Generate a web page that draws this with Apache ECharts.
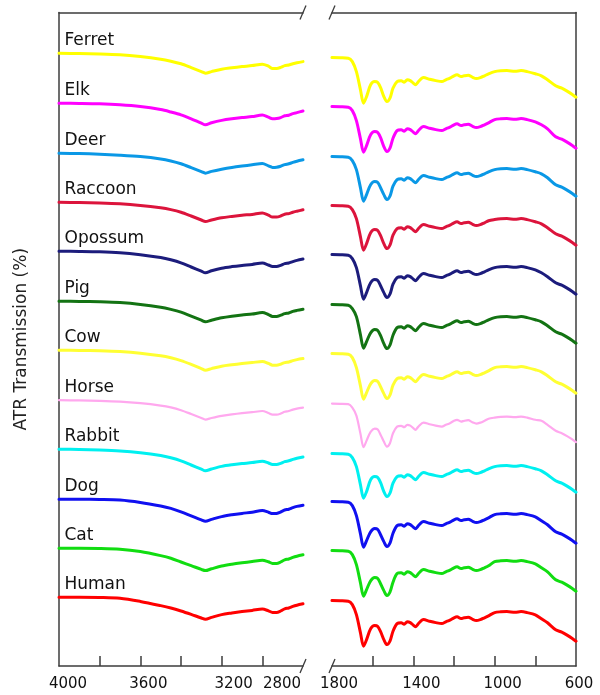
<!DOCTYPE html>
<html><head><meta charset="utf-8">
<script src="https://cdn.jsdelivr.net/npm/echarts@6/dist/echarts.min.js"></script>
<style>html,body{margin:0;padding:0;background:#fff}#c{width:600px;height:695px}</style>
</head><body><div id="c"></div>
<script>
// ---------------- DATA ----------------
const species = ['Ferret','Elk','Deer','Raccoon','Opossum','Pig','Cow','Horse','Rabbit','Dog','Cat','Human'];
// vertical stacking offset of each spectrum (transmission units)
const offsets = [272, 247, 222, 197.5, 173, 148, 123.5, 98.5, 74, 49, 24.5, 0];

// wavenumbers (cm-1)
const wnHigh = [4000,3900,3800,3700,3600,3500,3450,3400,3350,3300,3280,3250,3200,3150,3100,3050,3000,2970,2950,2930,2910,2890,2870,2850,2830,2800];
const wnLow = [1800,1760,1720,1700,1680,1660,1645,1630,1610,1590,1575,1560,1545,1530,1515,1500,1480,1460,1445,1430,1415,1400,1390,1375,1350,1320,1290,1260,1240,1220,1200,1185,1165,1150,1130,1110,1090,1070,1050,1030,1000,970,940,900,870,840,800,770,740,700,670,640,620,600];

// tick labels
const ticksHigh = [3800,3600,3400,3200,3000];
const labelsHigh = [4000,3600,3200,2800];
const ticksLow = [1600,1400,1200,1000,800];
const labelsLow = [1800,1400,1000,600];

// transmission, 4000-2800 cm-1
const ferretHigh  = [100,99.8,99.6,99.2,98.3,97.0,96.0,94.7,92.8,90.8,90.0,90.8,92.0,92.7,93.3,93.8,94.5,93.5,92.4,92.4,92.9,93.8,94.1,94.7,95.2,95.8];
const elkHigh     = [100,99.9,99.7,99.2,98.3,96.8,95.6,94.2,92.2,90.0,89.2,90.2,91.4,92.2,92.8,93.3,94.1,93.0,92.2,92.3,92.8,93.7,94.0,94.8,95.3,96.1];
const deerHigh    = [100,99.8,99.5,99.0,98.3,97.1,96.1,94.7,92.8,90.8,90.0,90.9,92.0,92.9,93.6,94.2,94.8,93.7,92.9,93.0,93.5,94.3,94.7,95.4,96.0,96.7];
const raccoonHigh = [100,99.8,99.6,99.2,98.4,97.2,96.3,95.0,93.1,91.1,90.3,91.1,92.2,92.9,93.5,93.9,94.6,93.5,92.6,92.6,93.1,94.0,94.3,95.0,95.5,96.2];
const opossumHigh = [100,99.9,99.7,99.2,98.2,96.8,95.7,94.2,92.1,90.0,89.2,90.2,91.5,92.3,92.9,93.4,94.1,93.1,92.3,92.3,92.9,93.8,94.1,94.8,95.4,96.1];
const pigHigh     = [100,99.9,99.7,99.3,98.4,97.0,95.9,94.5,92.5,90.5,89.7,90.5,91.7,92.5,93.1,93.6,94.3,93.3,92.4,92.4,93.0,93.8,94.1,94.9,95.4,96.0];
const cowHigh     = [100,99.9,99.7,99.3,98.5,97.2,96.2,94.8,92.9,90.8,90.0,90.8,92.0,92.7,93.3,93.8,94.4,93.4,92.5,92.5,93.0,93.8,94.1,94.8,95.3,95.8];
const horseHigh   = [100,99.9,99.7,99.3,98.5,97.3,96.4,95.0,93.1,91.1,90.3,91.1,92.2,92.9,93.5,94.0,94.6,93.6,92.8,92.8,93.3,94.2,94.6,95.3,95.8,96.3];
const rabbitHigh  = [100,99.9,99.6,99.1,98.2,96.8,95.7,94.2,92.1,90.0,89.2,90.1,91.4,92.2,92.8,93.3,94.0,93.1,92.3,92.3,92.9,93.8,94.2,94.9,95.5,96.1];
const dogHigh     = [100,100,99.9,99.6,98.4,96.6,95.4,93.7,91.7,89.7,89.0,89.9,91.3,92.2,92.9,93.5,94.3,93.5,92.8,92.9,93.6,94.6,95.0,95.8,96.4,97.0];
const catHigh     = [100,100,99.9,99.5,98.3,96.3,95.0,93.1,91.3,89.4,88.8,89.7,91.1,92.0,92.7,93.3,94.0,93.2,92.4,92.4,93.1,94.2,94.6,95.4,96.0,96.7];
const humanHigh   = [100,100,99.9,99.5,97.9,95.8,94.6,93.1,91.4,89.6,89.0,89.9,91.3,92.1,92.8,93.4,94.1,93.2,92.4,92.4,93.1,94.2,94.6,95.4,96.0,96.7];

// transmission, 1800-600 cm-1
const ferretLow  = [97.8,97.7,97.5,95.8,90.8,81.7,75.0,78.3,84.2,85.8,85.3,82.5,78.3,75.8,77.5,82.5,85.8,86.2,85.5,86.7,86.3,85.0,84.2,85.8,87.8,87.0,86.3,85.8,86.7,87.5,88.7,89.2,88.3,88.7,89.0,88.0,87.3,87.8,88.7,89.7,90.8,91.2,91.3,91.0,91.3,90.8,89.7,88.7,86.7,83.7,82.5,80.8,79.5,78.0];
const elkLow     = [98.3,98.2,98.0,96.3,91.3,82.2,75.5,78.8,84.2,85.8,85.3,82.5,78.3,75.8,77.5,82.5,86.3,86.7,86.0,87.2,86.8,85.5,84.7,86.3,88.3,87.5,86.8,86.3,87.2,88.0,89.2,89.7,88.8,89.2,89.5,88.5,87.8,88.3,89.2,90.2,91.8,92.2,92.3,92.0,92.3,91.8,90.7,89.2,87.2,83.2,82.0,80.3,79.0,77.5];
const deerLow    = [98.3,98.2,98.0,96.3,91.8,82.7,76.0,79.3,84.2,85.8,85.3,82.5,79.3,76.8,78.5,83.5,86.8,87.2,86.5,87.7,87.3,86.0,85.2,86.8,88.8,88.0,87.3,86.8,87.7,88.5,89.7,90.2,89.3,89.7,90.0,89.0,88.3,88.8,89.7,90.7,91.8,92.2,92.3,92.0,92.3,91.8,90.7,89.7,87.7,84.2,83.0,81.3,80.0,78.5];
const raccoonLow = [98.3,98.2,98.0,96.3,91.8,82.7,76.0,79.3,84.7,86.3,85.8,83.0,79.3,76.8,78.5,83.5,86.8,87.2,86.5,87.7,87.3,86.0,85.2,86.8,88.8,88.0,87.3,86.8,87.7,88.5,89.7,90.2,89.3,89.7,90.0,89.0,88.3,88.8,89.7,90.7,91.3,91.7,91.8,91.5,91.8,91.3,90.2,89.2,87.2,84.2,83.0,81.3,80.0,78.5];
const opossumLow = [98.3,98.2,98.0,96.3,91.8,82.7,76.0,79.3,84.2,85.8,85.3,82.5,79.3,76.8,78.5,83.5,86.8,87.2,86.5,87.7,87.3,86.0,85.2,86.8,88.8,88.0,87.3,86.8,87.7,88.5,89.7,90.2,89.3,89.7,90.0,89.0,88.3,88.8,89.7,90.7,91.8,92.2,92.3,92.0,92.3,91.8,90.7,89.2,87.2,84.2,83.0,81.3,80.0,78.5];
const pigLow     = [98.3,98.2,98.0,96.3,92.3,83.2,76.5,79.8,84.2,85.8,85.3,82.5,78.8,76.3,78.0,83.0,86.8,87.2,86.5,87.7,87.3,86.0,85.2,86.8,88.8,88.0,87.3,86.8,87.7,88.5,89.7,90.2,89.3,89.7,90.0,89.0,88.3,88.8,89.7,90.7,91.8,92.2,92.3,92.0,92.3,91.8,90.7,89.7,87.7,84.7,83.5,81.8,80.5,79.0];
const cowLow     = [98.3,98.2,98.0,96.3,91.3,82.2,75.5,78.8,83.2,84.8,84.3,81.5,78.3,75.8,77.5,82.5,85.8,86.2,85.5,86.7,86.3,85.0,84.2,85.8,87.8,87.0,86.3,85.8,86.7,87.5,88.7,89.2,88.3,88.7,89.0,88.0,87.3,87.8,88.7,89.7,91.3,91.7,91.8,91.5,91.8,91.3,90.2,89.2,87.2,84.2,83.0,81.3,80.0,78.5];
const horseLow   = [98.3,98.2,98.0,96.3,92.3,83.2,76.5,79.8,84.2,85.8,85.3,82.5,79.3,76.8,78.5,83.5,86.8,87.2,86.5,87.7,87.3,86.0,85.2,86.8,88.8,88.0,87.3,86.8,87.7,88.5,89.7,90.2,89.3,89.7,90.0,89.0,88.3,88.8,89.7,90.7,91.3,91.7,91.8,91.5,91.8,91.3,90.2,89.7,87.7,84.7,83.5,81.8,80.5,79.0];
const rabbitLow  = [97.8,97.7,97.5,95.8,91.3,82.2,75.5,78.8,84.7,86.3,85.8,83.0,78.8,76.3,78.0,83.0,86.3,86.7,86.0,87.2,86.8,85.5,84.7,86.3,88.3,87.5,86.8,86.3,87.2,88.0,89.2,89.7,88.8,89.2,89.5,88.5,87.8,88.3,89.2,90.2,91.3,91.7,91.8,91.5,91.8,91.3,90.2,89.2,87.2,84.2,83.0,81.3,80.0,78.5];
const dogLow     = [98.8,98.7,98.5,96.8,91.8,82.7,76.0,79.3,83.7,85.3,84.8,82.0,78.8,76.3,78.0,83.0,86.8,87.2,86.5,87.7,87.3,86.0,85.2,86.8,88.8,88.0,87.3,86.8,87.7,88.5,89.7,90.2,89.3,89.7,90.0,89.0,88.3,88.8,89.7,90.7,92.3,92.7,92.8,92.5,92.8,92.3,91.2,89.2,87.2,83.7,82.5,80.8,79.5,78.0];
const catLow     = [98.8,98.7,98.5,96.8,91.8,82.7,76.0,79.3,83.7,85.3,84.8,82.0,78.8,76.3,78.0,83.0,87.3,87.7,87.0,88.2,87.8,86.5,85.7,87.3,89.3,88.5,87.8,87.3,88.2,89.0,90.2,90.7,89.8,90.2,90.5,89.5,88.8,89.3,90.2,91.2,93.3,93.7,93.8,93.5,93.8,93.3,92.2,90.2,88.2,84.2,83.0,81.3,80.0,78.5];
const humanLow   = [98.3,98.2,98.0,96.3,91.3,82.2,75.5,78.8,84.2,85.8,85.3,82.5,78.8,76.3,78.0,83.0,86.8,87.2,86.5,87.7,87.3,86.0,85.2,86.8,88.8,88.0,87.3,86.8,87.7,88.5,89.7,90.2,89.3,89.7,90.0,89.0,88.3,88.8,89.7,90.7,92.3,92.7,92.8,92.5,92.8,92.3,91.2,89.2,87.2,83.7,82.5,80.8,79.5,78.0];

const colors = ['#ffff00','#ff00ff','#0a98e6','#dc143c','#1c1c7c','#137313','#ffff33','#ffa8ee','#00f0f0','#1010f0','#11dd11','#ff0000'];

// ---------------- CHART ----------------
const highData = [ferretHigh,elkHigh,deerHigh,raccoonHigh,opossumHigh,pigHigh,cowHigh,horseHigh,rabbitHigh,dogHigh,catHigh,humanHigh];
const lowData  = [ferretLow,elkLow,deerLow,raccoonLow,opossumLow,pigLow,cowLow,horseLow,rabbitLow,dogLow,catLow,humanLow];

const FRAME = '#3c3c3c';
const FONT = 'DejaVu Sans';
const Y_MIN = 65.6, Y_MAX = 392.35;

const shift = {4000:[0,0,0,18],3600:[0,0,0,16],3200:[0,0,0,24],2800:[0,42,0,0],1800:[0,0,0,14],1400:[0,0,0,16],1000:[0,0,0,16],600:[0,0,0,6]};
const rich = {};
Object.keys(shift).forEach(k => { rich['l'+k] = {padding: shift[k], fontSize: 15, fontFamily: FONT, color: '#111'}; });

function bottomAxis(grid, min, max, ticks, labels) {
  return {
    gridIndex: grid, type: 'value', min, max, inverse: true, position: 'bottom',
    axisLine: {show: true, onZero: false, lineStyle: {color: FRAME, width: 1.5}},
    axisTick: {show: true, inside: true, length: 10, customValues: ticks, lineStyle: {color: FRAME, width: 1.5}},
    axisLabel: {show: true, customValues: labels, margin: 11, fontSize: 15, fontFamily: FONT, color: '#111',
      formatter: v => '{l' + v + '|' + v + '}', rich},
    splitLine: {show: false}
  };
}
function topAxis(grid, min, max) {
  return {
    gridIndex: grid, type: 'value', min, max, inverse: true, position: 'top',
    axisLine: {show: true, onZero: false, lineStyle: {color: FRAME, width: 1.5}},
    axisTick: {show: false}, axisLabel: {show: false}, splitLine: {show: false}
  };
}

const series = [];
species.forEach((name, i) => {
  const w = name === 'Horse' ? 2.2 : 3;
  series.push({
    type: 'line', name, xAxisIndex: 0, yAxisIndex: 0,
    data: wnHigh.map((x, j) => [x, highData[i][j] + offsets[i]]),
    showSymbol: false, smooth: 0.3, silent: true,
    lineStyle: {color: colors[i], width: w, cap: 'round', join: 'round'},
    markPoint: {
      symbol: 'circle', symbolSize: 1, silent: true, itemStyle: {color: 'rgba(0,0,0,0)'},
      label: {show: true, position: 'right', distance: 5, offset: [0, -13], formatter: name,
        fontSize: 17, fontFamily: FONT, color: '#111'},
      data: [{coord: [wnHigh[0], highData[i][0] + offsets[i]]}]
    }
  });
  series.push({
    type: 'line', name: name + ' ', xAxisIndex: 2, yAxisIndex: 1,
    data: wnLow.map((x, j) => [x, lowData[i][j] + offsets[i]]),
    showSymbol: false, smooth: 0.3, silent: true,
    lineStyle: {color: colors[i], width: w, cap: 'round', join: 'round'}
  });
});

// axis-break marks
const slash = (x, y) => ({type: 'line', shape: {x1: x - 3, y1: y + 7, x2: x + 3, y2: y - 7},
  style: {stroke: FRAME, lineWidth: 1.3}, silent: true});

const option = {
  animation: false,
  backgroundColor: '#fff',
  grid: [
    {left: 59, width: 244, top: 12.5, bottom: 29},
    {left: 332, width: 244, top: 12.5, bottom: 29}
  ],
  xAxis: [
    bottomAxis(0, 2800, 4000, ticksHigh, labelsHigh),
    topAxis(0, 2800, 4000),
    bottomAxis(1, 600, 1800, ticksLow, labelsLow),
    topAxis(1, 600, 1800)
  ],
  yAxis: [
    {gridIndex: 0, type: 'value', min: Y_MIN, max: Y_MAX, position: 'left',
     axisLine: {show: true, lineStyle: {color: FRAME, width: 1.5}}, axisTick: {show: false},
     axisLabel: {show: false}, splitLine: {show: false},
     name: 'ATR Transmission (%)', nameLocation: 'middle', nameGap: 29, nameRotate: 90,
     nameTextStyle: {fontSize: 17, fontFamily: FONT, color: '#222'}},
    {gridIndex: 1, type: 'value', min: Y_MIN, max: Y_MAX, position: 'right',
     axisLine: {show: true, lineStyle: {color: FRAME, width: 1.5}}, axisTick: {show: false},
     axisLabel: {show: false}, splitLine: {show: false}}
  ],
  graphic: [slash(303, 666), slash(332, 666), slash(303, 12.5), slash(332, 12.5)],
  series
};
const chart = echarts.init(document.getElementById('c'));
chart.setOption(option);
</script>
</body></html>
